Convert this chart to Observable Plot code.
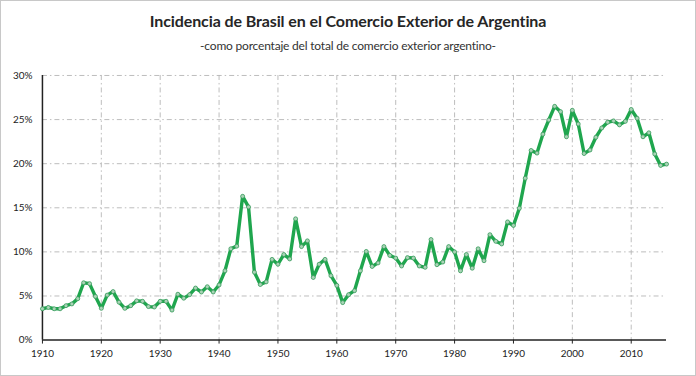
<!DOCTYPE html>
<html>
<head>
<meta charset="utf-8">
<script src="https://cdn.jsdelivr.net/npm/d3@7"></script>
<script src="https://cdn.jsdelivr.net/npm/@observablehq/plot@0.6"></script>
<style>
  html, body { margin: 0; padding: 0; background: #fff; }
  #frame { position: relative; width: 694px; height: 374px; border: 1px solid #c8c8c8; overflow: hidden; font-family: Lato, "Open Sans", sans-serif; }
  #title { position: absolute; left: 0; width: 694px; top: 10px; text-align: center; font-size: 16px; font-weight: 700; color: #262626; letter-spacing: -0.1px; }
  #subtitle { position: absolute; left: 0; width: 694px; top: 37px; text-align: center; font-size: 12px; color: #333; letter-spacing: -0.2px; }
  #chart { position: absolute; left: -1px; top: 59px; }
</style>
</head>
<body>
<div id="frame">
  <div id="title">Incidencia de Brasil en el Comercio Exterior de Argentina</div>
  <div id="subtitle">-como porcentaje del total de comercio exterior argentino-</div>
  <div id="chart"></div>
</div>
<script>
const years = d3.range(1910, 2017);
const shares = [
  3.55, 3.7, 3.55, 3.55, 3.9, 4.1, 4.7, 6.5, 6.4, 4.95,
  3.6, 5.1, 5.5, 4.3, 3.6, 3.9, 4.45, 4.4, 3.8, 3.75,
  4.4, 4.4, 3.4, 5.2, 4.75, 5.15, 5.9, 5.45, 6.05, 5.45,
  6.25, 7.85, 10.35, 10.65, 16.3, 15.1, 7.7, 6.3, 6.6, 9.15,
  8.6, 9.7, 9.2, 13.75, 10.6, 11.25, 7.1, 8.6, 9.15, 7.3,
  6.2, 4.25, 5.15, 5.6, 7.85, 10.05, 8.35, 8.75, 10.6, 9.6,
  9.3, 8.4, 9.35, 9.3, 8.4, 8.25, 11.4, 8.55, 8.85, 10.6,
  10.0, 7.85, 9.7, 8.15, 10.35, 9.0, 11.95, 11.2, 10.9, 13.4,
  13.0, 14.95, 18.35, 21.5, 21.2, 23.35, 24.95, 26.5, 25.9, 23.05,
  26.05, 24.5, 21.15, 21.55, 23.0, 24.05, 24.7, 24.85, 24.4, 24.8,
  26.15, 25.15, 23.05, 23.5, 21.1, 19.8, 19.95
];
const xTicks = [1910, 1920, 1930, 1940, 1950, 1960, 1970, 1980, 1990, 2000, 2010];
const yTicks = [0, 5, 10, 15, 20, 25, 30];
const gridX = xTicks.slice(1);
const gridY = yTicks.slice(1);

const data = years.map((y, i) => ({year: y, share: shares[i]}));
const green = "#1fa64e";

const chart = Plot.plot({
  width: 696,
  height: 312,
  marginTop: 15,
  marginBottom: 32,
  marginLeft: 42,
  marginRight: 29,
  style: {fontFamily: "Lato, 'Open Sans', sans-serif", fontSize: "10px", color: "#222", background: "transparent"},
  x: {domain: [1910, 2016], ticks: xTicks, tickFormat: d => String(d), tickSize: 4, tickPadding: 6, label: null},
  y: {domain: [0, 30], ticks: yTicks, tickFormat: d => d + "%", tickSize: 0, tickPadding: 10, label: null},
  marks: [
    Plot.ruleX(gridX, {stroke: "#b5b5b5", strokeWidth: 0.9, strokeDasharray: "5,3,1.5,3"}),
    Plot.ruleY(gridY, {stroke: "#b5b5b5", strokeWidth: 0.9, strokeDasharray: "5,3,1.5,3"}),
    Plot.axisX({ticks: xTicks, tickFormat: d => String(d), tickSize: 4, tickPadding: 6, stroke: "#222", fill: "#222"}),
    Plot.axisY({ticks: yTicks, tickFormat: d => d + "%", tickSize: 0, tickPadding: 10, fill: "#222"}),
    Plot.ruleY([0], {stroke: "#222", strokeWidth: 1.5}),
    Plot.ruleX([1910], {stroke: "#222", strokeWidth: 1.5}),
    Plot.line(data, {x: "year", y: "share", stroke: green, strokeWidth: 3.4, strokeLinejoin: "round"}),
    Plot.dot(data, {x: "year", y: "share", r: 2, fill: "#a9d4b6", stroke: "#3c9c60", strokeWidth: 0.8})
  ]
});
document.getElementById("chart").appendChild(chart);
</script>
</body>
</html>
